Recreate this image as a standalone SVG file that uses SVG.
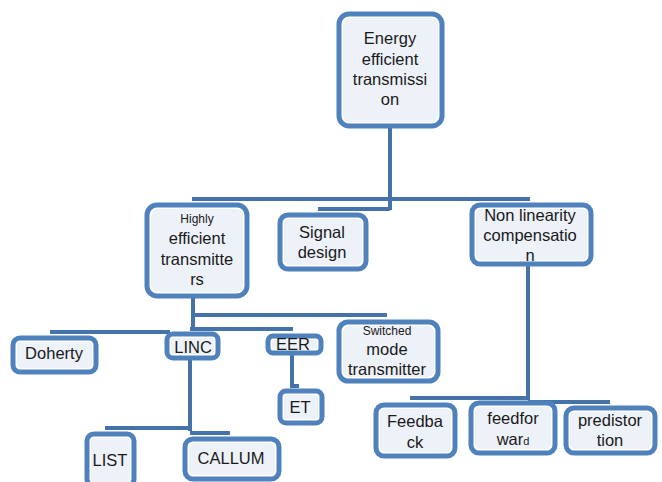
<svg xmlns="http://www.w3.org/2000/svg" width="662" height="482" viewBox="0 0 662 482">
<style>
.box{fill:#ffffff;stroke:#4f81bd;stroke-width:5}
.in{fill:#edf1f8}
.t{font-family:"Liberation Sans",Arial,sans-serif;font-size:16.5px;fill:#1a1a1a;text-anchor:middle}
.s{font-size:12px}
.c{stroke:#4672aa;stroke-width:4;fill:none}
</style>
<rect width="662" height="482" fill="#ffffff"/>
<g id="connectors">
<path class="c" d="M390 127V210"/>
<path class="c" d="M192 199H530"/>
<path class="c" d="M318 209H390"/>
<path class="c" d="M528 265V400"/>
<path class="c" d="M410 398H528"/>
<path class="c" d="M528 402H610"/>
<path class="c" d="M193 297V331"/>
<path class="c" d="M193 315H387"/>
<path class="c" d="M50 332H170"/>
<path class="c" d="M190 329H293"/>
<path class="c" d="M292 353V386H299"/>
<path class="c" d="M190 358V431"/>
<path class="c" d="M105 428H190"/>
<path class="c" d="M190 433H230"/>
</g>
<g id="root">
<rect class="box" x="339" y="14" width="103" height="112" rx="10"/>
<rect class="in" x="343" y="18" width="95" height="104" rx="7"/>
<text class="t" x="390" y="44">Energy</text>
<text class="t" x="390" y="65">efficient</text>
<text class="t" x="390" y="85">transmissi</text>
<text class="t" x="390" y="105">on</text>
</g>
<g id="het">
<rect class="box" x="147" y="205" width="100" height="91" rx="10"/>
<rect class="in" x="151" y="209" width="92" height="83" rx="7"/>
<text class="t s" x="197" y="223">Highly</text>
<text class="t" x="197" y="244">efficient</text>
<text class="t" x="197" y="265">transmitte</text>
<text class="t" x="197" y="285">rs</text>
</g>
<g id="signal">
<rect class="box" x="280" y="215" width="86" height="54" rx="8"/>
<rect class="in" x="284" y="219" width="78" height="46" rx="5"/>
<text class="t" x="322" y="238">Signal</text>
<text class="t" x="322" y="258">design</text>
</g>
<g id="nonlin">
<rect class="box" x="472" y="205" width="119" height="59" rx="8"/>
<rect class="in" x="476" y="209" width="111" height="51" rx="5"/>
<text class="t" x="530" y="221">Non linearity</text>
<text class="t" x="530" y="241">compensatio</text>
<text class="t" x="530" y="261">n</text>
</g>
<g id="doherty">
<rect class="box" x="13" y="338" width="83" height="34" rx="7"/>
<rect class="in" x="17" y="342" width="75" height="26" rx="4"/>
<text class="t" x="54" y="359">Doherty</text>
</g>
<g id="linc">
<rect class="box" x="167" y="334" width="51" height="24" rx="6"/>
<rect class="in" x="171" y="338" width="43" height="16" rx="3"/>
<text class="t" x="193" y="353">LINC</text>
</g>
<g id="eer">
<rect class="box" x="268" y="336" width="53" height="17" rx="5"/>
<rect class="in" x="272" y="340" width="45" height="9" rx="2"/>
<text class="t" x="293" y="350">EER</text>
</g>
<g id="switched">
<rect class="box" x="339" y="322" width="99" height="59" rx="9"/>
<rect class="in" x="343" y="326" width="91" height="51" rx="6"/>
<text class="t s" x="387" y="335">Switched</text>
<text class="t" x="387" y="355">mode</text>
<text class="t" x="387" y="375">transmitter</text>
</g>
<g id="et">
<rect class="box" x="280" y="391" width="42" height="32" rx="6"/>
<rect class="in" x="284" y="395" width="34" height="24" rx="3"/>
<text class="t" x="300" y="413">ET</text>
</g>
<g id="list">
<rect class="box" x="87" y="434" width="47" height="52" rx="7"/>
<rect class="in" x="91" y="438" width="39" height="44" rx="4"/>
<text class="t" x="110" y="466">LIST</text>
</g>
<g id="callum">
<rect class="box" x="185" y="439" width="94" height="40" rx="8"/>
<rect class="in" x="189" y="443" width="86" height="32" rx="5"/>
<text class="t" x="231" y="464">CALLUM</text>
</g>
<g id="feedback">
<rect class="box" x="376" y="405" width="79" height="51" rx="8"/>
<rect class="in" x="380" y="409" width="71" height="43" rx="5"/>
<text class="t" x="415" y="427">Feedba</text>
<text class="t" x="415" y="448">ck</text>
</g>
<g id="feedforward">
<rect class="box" x="471" y="403" width="84" height="50" rx="8"/>
<rect class="in" x="475" y="407" width="76" height="42" rx="5"/>
<text class="t" x="513" y="424">feedfor</text>
<text class="t" x="513" y="445">war<tspan font-size="11">d</tspan></text>
</g>
<g id="predistortion">
<rect class="box" x="566" y="408" width="89" height="45" rx="8"/>
<rect class="in" x="570" y="412" width="81" height="37" rx="5"/>
<text class="t" x="610" y="426">predistor</text>
<text class="t" x="610" y="446">tion</text>
</g>
</svg>
